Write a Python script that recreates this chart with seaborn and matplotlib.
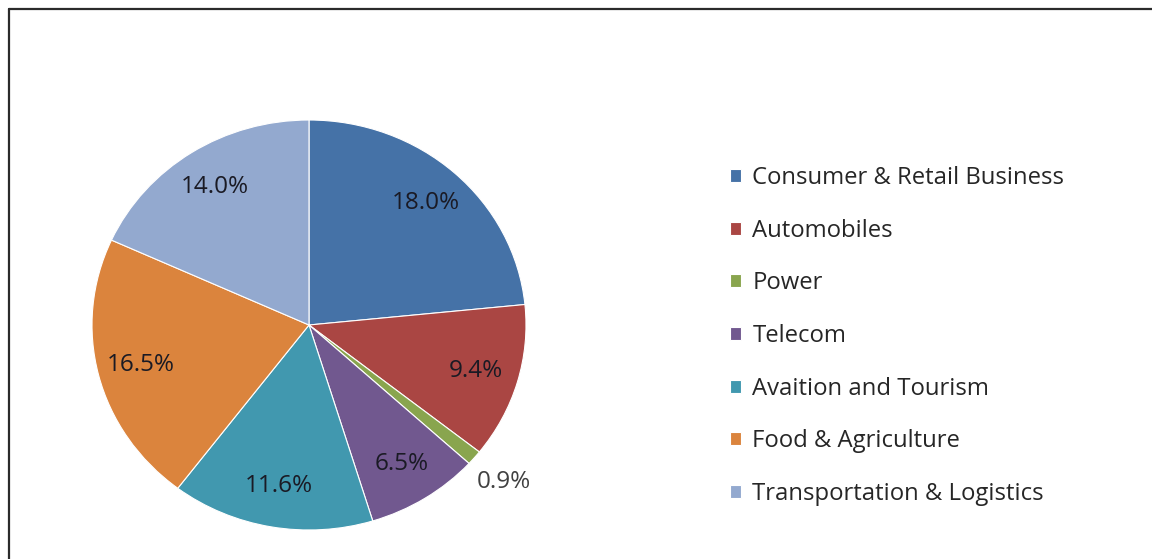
import matplotlib
matplotlib.use("Agg")
import matplotlib.pyplot as plt
from matplotlib.lines import Line2D
import seaborn as sns

categories = ["Consumer & Retail Business", "Automobiles", "Power", "Telecom",
              "Avaition and Tourism", "Food & Agriculture", "Transportation & Logistics"]
values = [18.0, 9.4, 0.9, 6.5, 11.6, 16.5, 14.0]
colors = ["#4572A7", "#AA4643", "#89A54E", "#71588F", "#4198AF", "#DB843D", "#93A9CF"]

sns.set_theme(style="white")
plt.rcParams["font.family"] = ["Open Sans", "DejaVu Sans"]
palette = sns.color_palette(colors)

W, H = 1152, 559
fig = plt.figure(figsize=(W / 100, H / 100), dpi=100)
fig.patch.set_facecolor("white")

cx, cy, rx, ry = 309, 325, 217, 205
ax = fig.add_axes([(cx - rx) / W, (H - (cy + ry)) / H, 2 * rx / W, 2 * ry / H])
ax.set_aspect("auto")

total = sum(values)
pct_dist = 0.8
wedges, texts, autotexts = ax.pie(
    values, colors=palette, startangle=90, counterclock=False,
    autopct=lambda p: f"{p * total / 100:.1f}%", pctdistance=pct_dist,
    wedgeprops=dict(edgecolor="white", linewidth=0.8),
    textprops=dict(fontsize=17.5, color="#1A1A24"))
ax.set_xlim(-1, 1)
ax.set_ylim(-1, 1)
ax.set_aspect("auto")

# small slice label outside
small = values.index(min(values))
x, y = autotexts[small].get_position()
autotexts[small].set_position((x * 1.18 / pct_dist, y * 1.18 / pct_dist))
autotexts[small].set_color("#404040")

fig.legend(wedges, categories, loc="upper left",
           bbox_to_anchor=(730 / W, (H - 166) / H), frameon=False,
           fontsize=17.2, labelspacing=1.2, handlelength=0.47, handleheight=0.47,
           handletextpad=0.47, borderpad=0, borderaxespad=0,
           labelcolor="#262626")

# outer frame
fig.add_artist(Line2D([8.5 / W, 8.5 / W], [0, 1 - 8.5 / H], transform=fig.transFigure,
                      color="#2b2b2b", linewidth=1.6))
fig.add_artist(Line2D([8.5 / W, 1], [1 - 8.5 / H, 1 - 8.5 / H], transform=fig.transFigure,
                      color="#2b2b2b", linewidth=1.6))

fig.savefig("out.png", dpi=100, facecolor="white")
